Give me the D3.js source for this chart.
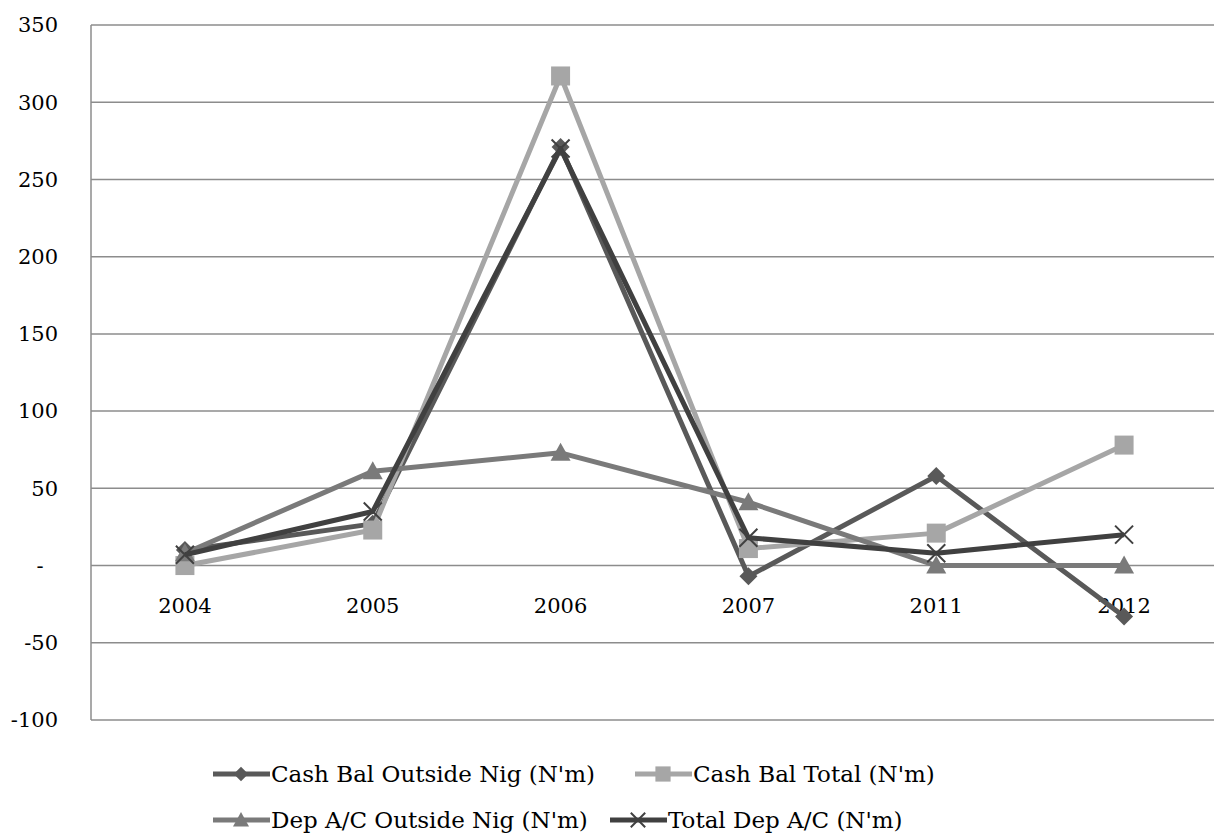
<!DOCTYPE html>
<html>
<head>
<script src="https://d3js.org/d3.v7.min.js"></script>
<style>
  body { margin: 0; background: #fff; }
  text { font-family: "DejaVu Serif", "Liberation Serif", serif; fill: #000; }
</style>
</head>
<body>
<script>
// data
var years = ["2004", "2005", "2006", "2007", "2011", "2012"];
var cashBalOutside = [10, 27, 271, -7, 58, -33];
var cashBalTotal = [0, 23, 317, 11, 21, 78];
var depOutside = [8, 61, 73, 41, 0, 0];
var totalDep = [7, 35, 270, 18, 8, 20];
var yTicks = [-100, -50, 0, 50, 100, 150, 200, 250, 300, 350];

var series = [
  {name: "Cash Bal Outside Nig (N'm)", values: cashBalOutside, color: "#595959", symbol: "diamond"},
  {name: "Cash Bal Total (N'm)", values: cashBalTotal, color: "#a6a6a6", symbol: "square"},
  {name: "Dep A/C Outside Nig (N'm)", values: depOutside, color: "#7a7a7a", symbol: "triangle"},
  {name: "Total Dep A/C (N'm)", values: totalDep, color: "#404040", symbol: "cross"}
];

var W = 1214, H = 837;
var margin = {top: 25, right: -4, bottom: 117, left: 91};
var width = W - margin.left - margin.right,
    height = H - margin.top - margin.bottom;

var svg = d3.select("body").append("svg")
  .attr("width", W).attr("height", H);
var g = svg.append("g")
  .attr("transform", "translate(" + margin.left + "," + margin.top + ")");

var x = d3.scaleBand().domain(years).range([0, width]);
var y = d3.scaleLinear().domain([-100, 350]).range([height, 0]);

// gridlines
g.selectAll(".grid").data(yTicks).enter().append("line")
  .attr("x1", 0).attr("x2", width)
  .attr("y1", function(d) { return y(d); })
  .attr("y2", function(d) { return y(d); })
  .attr("stroke", "#8c8c8c").attr("stroke-width", 1.5);

g.append("line")
  .attr("x1", 0).attr("x2", 0).attr("y1", 0).attr("y2", height)
  .attr("stroke", "#8c8c8c").attr("stroke-width", 1.5);

// y labels
g.selectAll(".ylab").data(yTicks).enter().append("text")
  .attr("x", function(d) { return d === 0 ? -51 : -33; })
  .attr("y", function(d) { return y(d); })
  .attr("dy", "0.35em")
  .attr("text-anchor", function(d) { return d === 0 ? "middle" : "end"; })
  .style("font-size", "21px")
  .text(function(d) { return d === 0 ? "-" : d; });

// x labels (on the zero line)
g.selectAll(".xlab").data(years).enter().append("text")
  .attr("x", function(d) { return x(d) + x.bandwidth() / 2; })
  .attr("y", y(0) + 47)
  .attr("text-anchor", "middle")
  .style("font-size", "21px")
  .text(function(d) { return d; });

function drawMarker(sel, s, cx, cy, scale) {
  scale = scale || 1;
  if (s.symbol === "cross") {
    var r = 9 * scale;
    sel.append("path")
      .attr("d", "M" + (cx - r) + "," + (cy - r) + "L" + (cx + r) + "," + (cy + r) +
                 "M" + (cx - r) + "," + (cy + r) + "L" + (cx + r) + "," + (cy - r))
      .attr("stroke", s.color).attr("stroke-width", 2).attr("fill", "none");
  } else if (s.symbol === "diamond") {
    var d = 9 * scale;
    sel.append("path")
      .attr("d", "M" + cx + "," + (cy - d) + "L" + (cx + d) + "," + cy +
                 "L" + cx + "," + (cy + d) + "L" + (cx - d) + "," + cy + "Z")
      .attr("fill", s.color);
  } else if (s.symbol === "square") {
    var h = 9.5 * scale;
    sel.append("rect")
      .attr("x", cx - h).attr("y", cy - h)
      .attr("width", 2 * h).attr("height", 2 * h)
      .attr("fill", s.color);
  } else {
    var t = 10 * scale;
    sel.append("path")
      .attr("d", "M" + cx + "," + (cy - t) + "L" + (cx + t) + "," + (cy + t * 0.8) +
                 "L" + (cx - t) + "," + (cy + t * 0.8) + "Z")
      .attr("fill", s.color);
  }
}

var line = d3.line()
  .x(function(d, i) { return x(years[i]) + x.bandwidth() / 2; })
  .y(function(d) { return y(d); });

series.forEach(function(s) {
  g.append("path")
    .datum(s.values)
    .attr("d", line)
    .attr("fill", "none")
    .attr("stroke", s.color)
    .attr("stroke-width", 5)
    .attr("stroke-linejoin", "round");
  s.values.forEach(function(v, i) {
    drawMarker(g, s, x(years[i]) + x.bandwidth() / 2, y(v));
  });
});

// legend
var legendPos = [
  {x: 213, y: 774}, {x: 635, y: 774},
  {x: 213, y: 820}, {x: 610, y: 820}
];
series.forEach(function(s, i) {
  var p = legendPos[i];
  var lg = svg.append("g");
  lg.append("line")
    .attr("x1", p.x).attr("x2", p.x + 57)
    .attr("y1", p.y).attr("y2", p.y)
    .attr("stroke", s.color).attr("stroke-width", 5);
  drawMarker(lg, s, p.x + 28, p.y, 0.8);
  lg.append("text")
    .attr("x", p.x + 58).attr("y", p.y)
    .attr("dy", "0.35em")
    .style("font-size", "23px")
    .text(s.name);
});
</script>
</body>
</html>
